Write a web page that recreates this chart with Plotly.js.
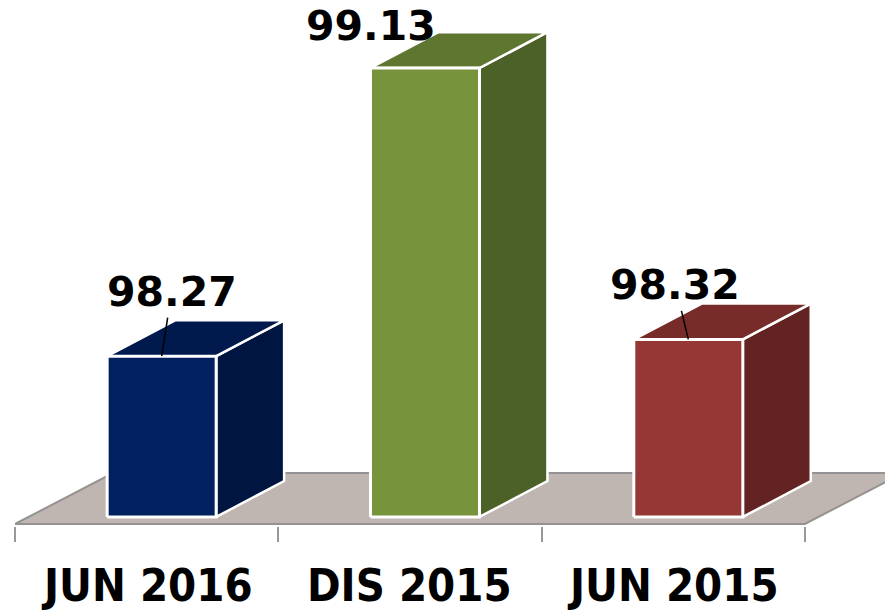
<!DOCTYPE html>
<html>
<head>
<meta charset="utf-8">
<script src="https://cdn.plot.ly/plotly-3.0.1.min.js"></script>
<style>html,body{margin:0;padding:0;background:#fff;}#chart{width:885px;height:614px;}</style>
</head>
<body>
<div id="chart"></div>
<script>
// ---- data ----
const categories = ['JUN 2016', 'DIS 2015', 'JUN 2015'];
const values = [98.27, 99.13, 98.32];
const valueLabels = ['98.27', '99.13', '98.32'];
const boundaryTicks = [-0.5, 0.5, 1.5, 2.5];

// ---- styling ----
const frontColors = ['#002060', '#77933C', '#953735'];
const topColors = ['#001A4E', '#5F7631', '#772C2A'];
const sideColors = ['#00153F', '#4C6127', '#632322'];
const floorColor = '#BFB5B1';
const AXIS_MIN = 97.763;      // bottom of the value axis
const AXIS_MAX = 99.333;      // top of the value axis
const FLOOR_Y = 97.769;       // front edge of the floor
const BAR_BASE = 97.79;       // bottom of the bar fronts
const FLOOR_DX = 0.372, FLOOR_DY = 0.152; // floor depth
const BAR_SHIFT = 0.057;      // bar front set back into the floor
const BAR_DX = 0.258, BAR_DY = 0.107;     // bar depth
const BAR_W = 0.414;
const labelOffX = [10, -54, -13];
const labelOffY = [-64, -42, -54];
const leader = [true, false, true];

const traces = [];
const common = {mode: 'lines', fill: 'toself', hoverinfo: 'skip', showlegend: false};

// floor
const x0 = boundaryTicks[0], x1 = boundaryTicks[boundaryTicks.length - 1];
traces.push(Object.assign({}, common, {
  x: [x0, x1, x1 + FLOOR_DX, x0 + FLOOR_DX, x0],
  y: [FLOOR_Y, FLOOR_Y, FLOOR_Y + FLOOR_DY, FLOOR_Y + FLOOR_DY, FLOOR_Y],
  fillcolor: floorColor,
  line: {color: '#939393', width: 2}
}));

const annotations = [];
values.forEach((v, i) => {
  const c = i + BAR_SHIFT, h = BAR_W / 2;
  const L = c - h, R = c + h;
  // side face
  traces.push(Object.assign({}, common, {
    x: [R, R + BAR_DX, R + BAR_DX, R, R],
    y: [BAR_BASE, BAR_BASE + BAR_DY, v + BAR_DY, v, BAR_BASE],
    fillcolor: sideColors[i],
    line: {color: '#ffffff', width: 2.5}
  }));
  // top face
  traces.push(Object.assign({}, common, {
    x: [L, R, R + BAR_DX, L + BAR_DX, L],
    y: [v, v, v + BAR_DY, v + BAR_DY, v],
    fillcolor: topColors[i],
    line: {color: '#ffffff', width: 2.5}
  }));
  // front face
  traces.push(Object.assign({}, common, {
    x: [L, R, R, L, L],
    y: [BAR_BASE, BAR_BASE, v, v, BAR_BASE],
    fillcolor: frontColors[i],
    line: {color: '#ffffff', width: 3}
  }));
  const a = {
    x: c, y: v, xref: 'x', yref: 'y',
    text: valueLabels[i],
    font: {family: 'DejaVu Sans', size: 41, color: '#000000', weight: 'bold'},
    xanchor: 'center', yanchor: 'middle'
  };
  if (leader[i]) {
    Object.assign(a, {showarrow: true, arrowhead: 0, arrowwidth: 1.5, arrowcolor: '#000000',
      ax: labelOffX[i], ay: labelOffY[i], standoff: 0});
  } else {
    Object.assign(a, {showarrow: false, xshift: labelOffX[i], yshift: -labelOffY[i]});
  }
  annotations.push(a);
  annotations.push({
    x: i, y: -0.113, xref: 'x', yref: 'paper', showarrow: false,
    text: categories[i], xanchor: 'center', yanchor: 'middle',
    font: {family: 'DejaVu Sans Condensed, DejaVu Sans', size: 45, color: '#000000', weight: 'bold'}
  });
});

const layout = {
  width: 885, height: 614,
  margin: {l: 15, r: 0, t: 0, b: 88},
  paper_bgcolor: '#ffffff', plot_bgcolor: '#ffffff',
  showlegend: false,
  xaxis: {
    range: [-0.5, 2.804], tickvals: boundaryTicks, ticktext: boundaryTicks.map(() => ''),
    ticks: 'outside', ticklen: 15, tickwidth: 2, tickcolor: '#999999',
    showgrid: false, zeroline: false, showline: false, fixedrange: true
  },
  yaxis: {range: [AXIS_MIN, AXIS_MAX], visible: false, fixedrange: true},
  annotations: annotations
};

Plotly.newPlot('chart', traces, layout, {displayModeBar: false, staticPlot: true});
</script>
</body>
</html>
